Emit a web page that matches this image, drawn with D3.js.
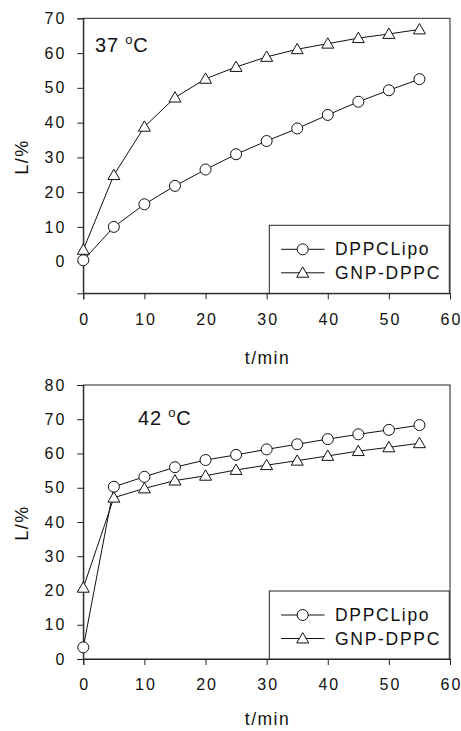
<!DOCTYPE html>
<html>
<head>
<meta charset="utf-8">
<script src="https://cdn.jsdelivr.net/npm/d3@7"></script>
<style>
  body { margin: 0; background: #fff; }
  text { font-family: "Liberation Sans", Arial, sans-serif; fill: #111; }
</style>
</head>
<body>
<script>
const W = 461, H = 731;

// time points (min)
const times = [0, 5, 10, 15, 20, 25, 30, 35, 40, 45, 50, 55];
const xTicks = [0, 10, 20, 30, 40, 50, 60];

// 37 °C
const lipo37 = [0.4, 10.0, 16.5, 21.8, 26.5, 30.9, 34.7, 38.3, 42.2, 46.0, 49.3, 52.5];
const gnp37 = [3.4, 24.9, 38.8, 47.2, 52.6, 56.0, 58.9, 61.1, 62.7, 64.3, 65.5, 66.8];
const yTicks37 = [0, 10, 20, 30, 40, 50, 60, 70];

// 42 °C
const lipo42 = [3.4, 50.3, 53.2, 56.0, 58.1, 59.6, 61.2, 62.7, 64.2, 65.6, 66.9, 68.3];
const gnp42 = [20.8, 47.1, 49.8, 52.1, 53.5, 55.2, 56.6, 57.9, 59.3, 60.7, 61.8, 63.0];
const yTicks42 = [0, 10, 20, 30, 40, 50, 60, 70, 80];

const seriesNames = ["DPPCLipo", "GNP-DPPC"];

const svg = d3.select("body").append("svg")
    .attr("width", W)
    .attr("height", H);

const tri = d3.symbol().type(d3.symbolTriangle).size(62);

function marker(g, type, x, y) {
    if (type === 0) {
        g.append("circle")
            .attr("cx", x).attr("cy", y).attr("r", 5.5)
            .attr("fill", "#fff").attr("stroke", "#111").attr("stroke-width", 1);
    } else {
        g.append("path")
            .attr("d", tri)
            .attr("transform", `translate(${x},${y + 1})`)
            .attr("fill", "#fff").attr("stroke", "#111").attr("stroke-width", 1);
    }
}

function buildPanel(opt) {
    const g = svg.append("g");

    const x = d3.scaleLinear().domain([0, 60]).range([83.3, 450]);
    const y = d3.scaleLinear().domain(opt.yDomain).range([opt.bottom, opt.top]);

    // frame
    g.append("rect")
        .attr("x", 83.3).attr("y", opt.top)
        .attr("width", 450 - 83.3).attr("height", opt.bottom - opt.top)
        .attr("fill", "none").attr("stroke", "#222").attr("stroke-width", 1);

    const xAxis = g.append("g")
        .attr("transform", `translate(0,${opt.bottom})`)
        .call(d3.axisBottom(x).tickValues(xTicks).tickSize(6).tickPadding(14));
    const yAxis = g.append("g")
        .attr("transform", "translate(83.3,0)")
        .call(d3.axisLeft(y).tickValues(opt.yTicks).tickSize(6).tickPadding(11));

    [xAxis, yAxis].forEach(a => {
        a.select(".domain").attr("stroke", "#222");
        a.selectAll(".tick line").attr("stroke", "#222");
        a.selectAll(".tick text")
            .style("font-family", "'Liberation Sans', Arial, sans-serif")
            .style("font-size", "16px")
            .style("letter-spacing", "2px")
            .attr("fill", "#111");
    });
    // keep centred labels centred despite letter-spacing
    xAxis.selectAll(".tick text").attr("dx", 1);

    // lines + markers
    const line = d3.line().x((d, i) => x(times[i])).y(d => y(d));
    opt.series.forEach(vals => {
        g.append("path")
            .datum(vals)
            .attr("d", line)
            .attr("fill", "none")
            .attr("stroke", "#111")
            .attr("stroke-width", 1);
    });
    opt.series.forEach((vals, k) => {
        vals.forEach((v, i) => marker(g, k, x(times[i]), y(v)));
    });

    // temperature label
    const t = g.append("text")
        .attr("x", opt.labelX).attr("y", opt.labelY)
        .style("font-size", "20px")
        .style("letter-spacing", "0.8px");
    t.append("tspan").text(opt.temp + " ");
    t.append("tspan").text("o").style("font-size", "13px").attr("dy", -8);
    t.append("tspan").text("C").attr("dy", 8);

    // legend
    const lx = 269.3, lw = 180, lh = 68;
    const ly = opt.bottom - lh;
    g.append("rect")
        .attr("x", lx).attr("y", ly).attr("width", lw).attr("height", lh)
        .attr("fill", "#fff").attr("stroke", "#222").attr("stroke-width", 1);
    seriesNames.forEach((name, k) => {
        const yy = ly + 24 + k * 23.5;
        g.append("line")
            .attr("x1", 281).attr("x2", 324.5).attr("y1", yy).attr("y2", yy)
            .attr("stroke", "#111").attr("stroke-width", 1);
        marker(g, k, 302.7, yy);
        g.append("text")
            .attr("x", 335).attr("y", yy + 6)
            .style("font-size", "17.5px")
            .style("letter-spacing", "1.7px")
            .text(name);
    });

    // axis titles
    g.append("text")
        .attr("x", 267.5).attr("y", opt.xTitleY)
        .attr("text-anchor", "middle")
        .style("font-size", "17.5px")
        .style("letter-spacing", "1.5px")
        .text("t/min");
    g.append("text")
        .attr("transform", `translate(28,${opt.yTitleY}) rotate(-90)`)
        .attr("text-anchor", "middle")
        .style("font-size", "18px")
        .style("letter-spacing", "1.5px")
        .text("L/%");
}

buildPanel({
    top: 18.3, bottom: 293.3, yDomain: [-9.1, 70], yTicks: yTicks37,
    series: [lipo37, gnp37], temp: "37", labelX: 95, labelY: 52,
    xTitleY: 364, yTitleY: 157
});

buildPanel({
    top: 385, bottom: 659, yDomain: [0, 80], yTicks: yTicks42,
    series: [lipo42, gnp42], temp: "42", labelX: 138, labelY: 425,
    xTitleY: 725, yTitleY: 523
});
</script>
</body>
</html>
